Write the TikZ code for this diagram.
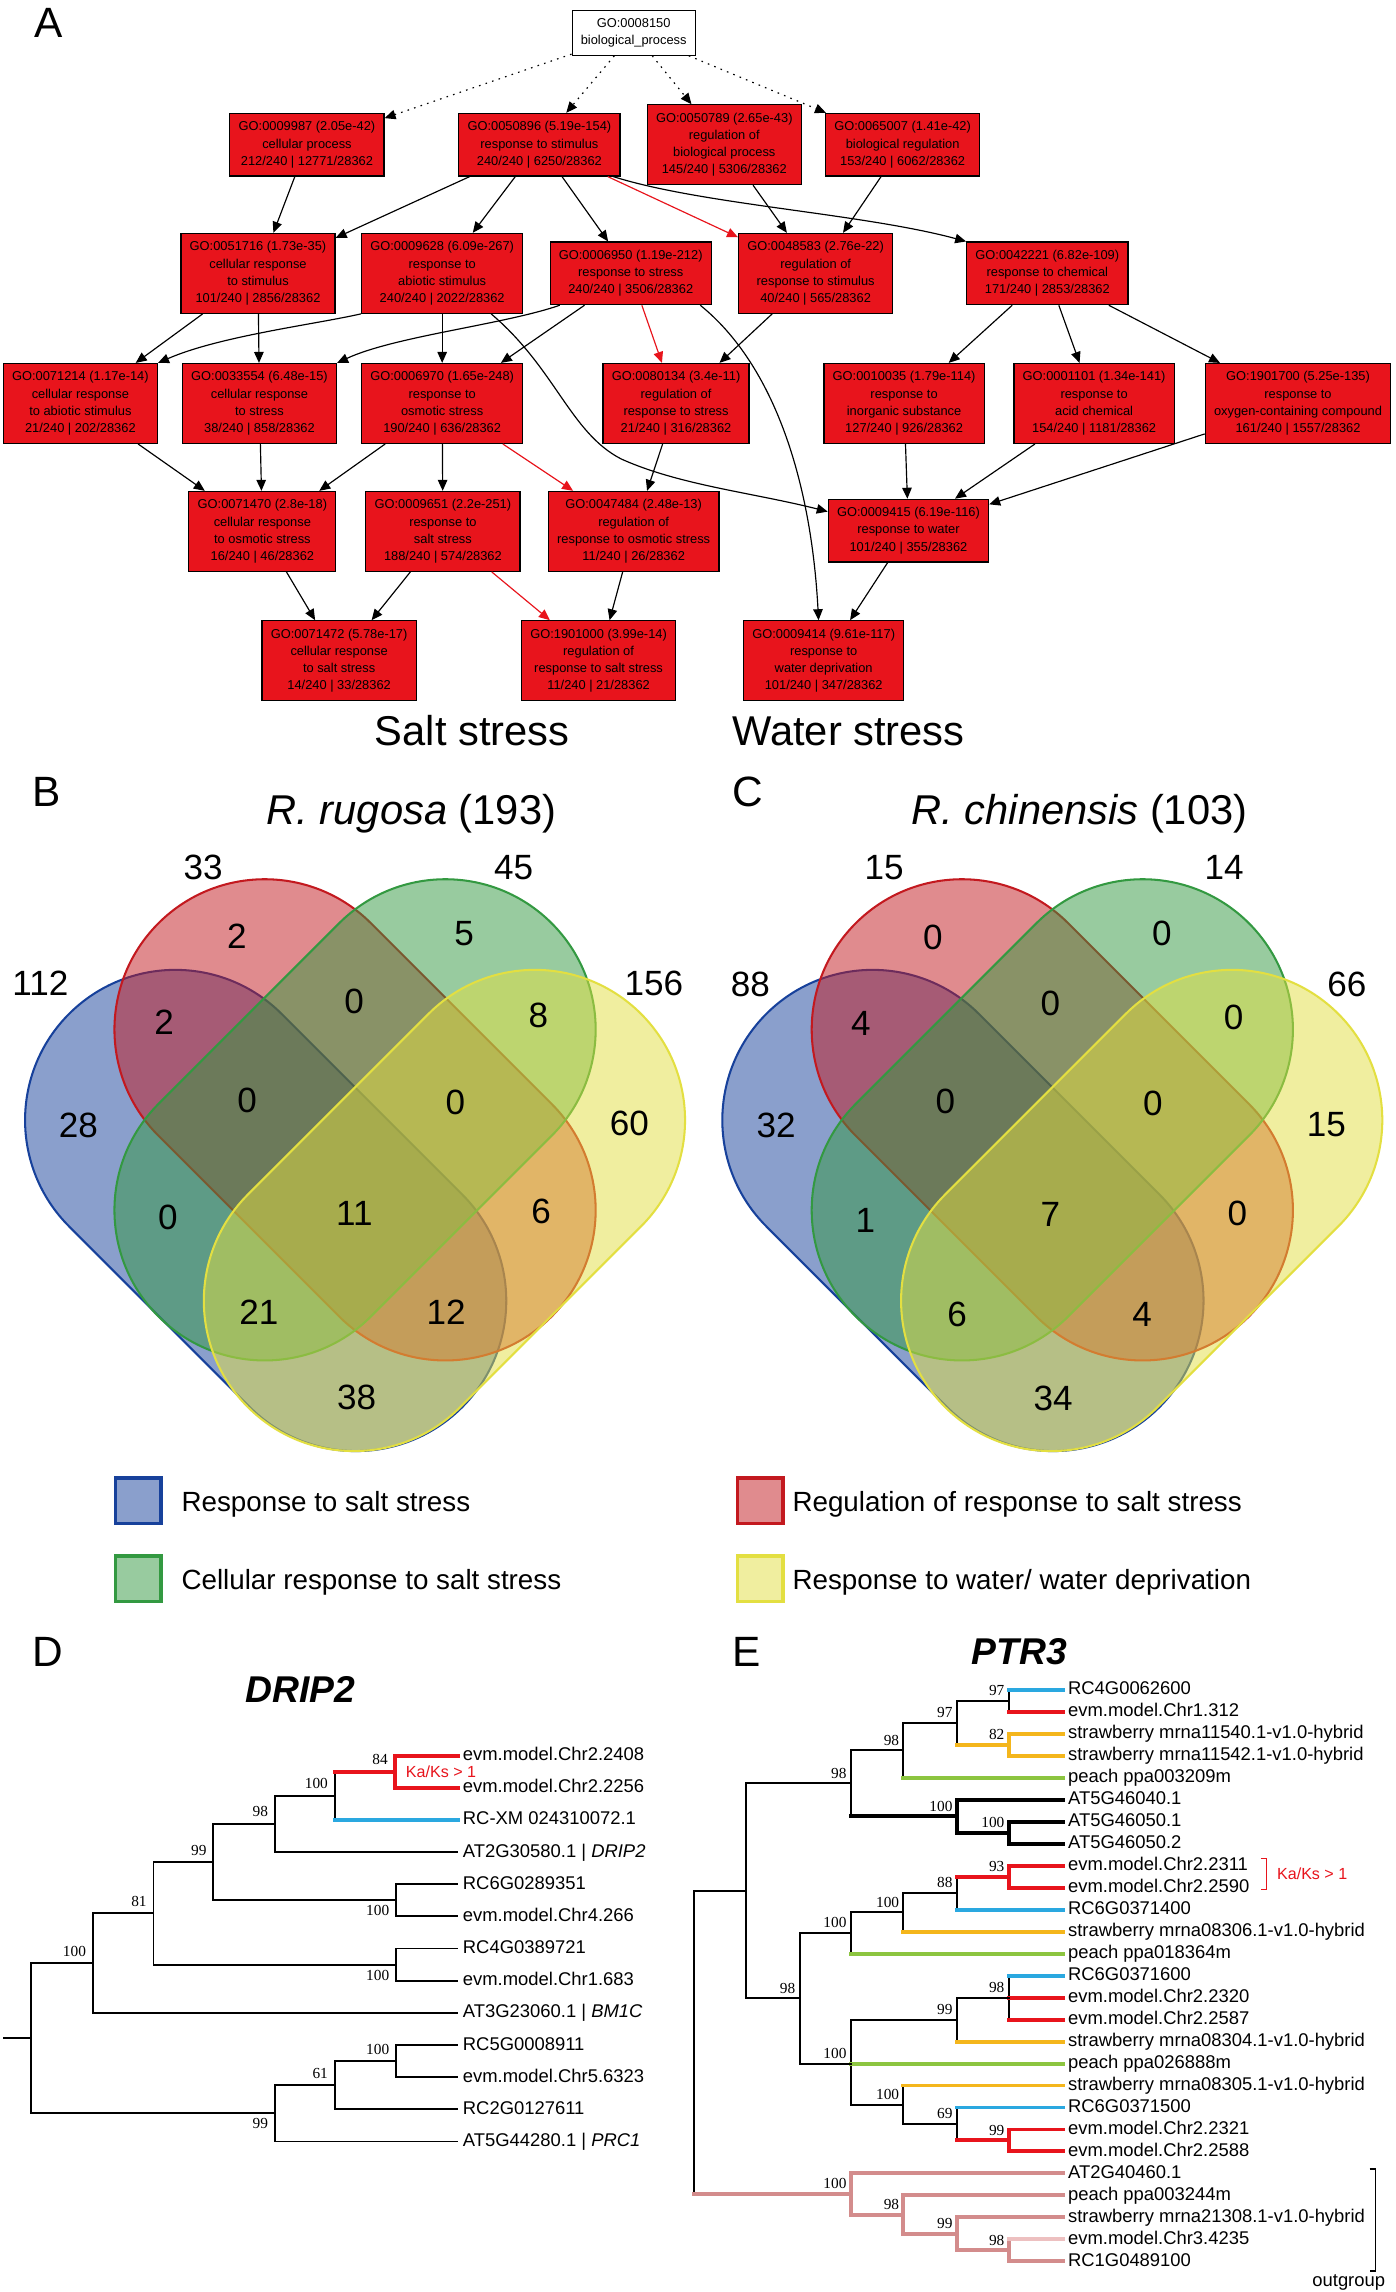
\documentclass[tikz,border=0pt]{standalone}
\usepackage{fontspec}
\setmainfont{Liberation Sans}
\newfontfamily\bootfont{Liberation Serif}
\usetikzlibrary{arrows.meta}

\definecolor{gofill}{HTML}{E8141C}
\definecolor{vblue}{HTML}{17419B}
\definecolor{vred}{HTML}{C3191F}
\definecolor{vgreen}{HTML}{339941}
\definecolor{vyellow}{HTML}{E3DF41}
\definecolor{tblue}{HTML}{2AA8E0}
\definecolor{tred}{HTML}{E8141C}
\definecolor{tyellow}{HTML}{F4B61C}
\definecolor{tgreen}{HTML}{8CC540}
\definecolor{tpink}{HTML}{D38C8C}
\definecolor{tlpink}{HTML}{EDC0C0}

% tree helpers: horizontal branch and vertical stem
\newcommand{\tbranch}[3][br]{\draw[#1] (#2 |- #3) -- (#3);}
\newcommand{\tstem}[4][br]{\draw[#1] (#2 |- #3) -- (#2 |- #4);}

\tikzset{
  panel/.style={font=\fontsize{29}{29}\selectfont, text height=20.8pt, text depth=0pt},
  gobox/.style={draw, fill=gofill, line width=0.8pt, align=center, inner xsep=6pt, inner ysep=5.5pt,
    font=\fontsize{8.8}{11.8}\selectfont},
  rootbox/.style={gobox, fill=white, line width=0.6pt},
  goarrow/.style={-{Triangle[length=7.5pt,width=6.5pt]}, line width=0.8pt},
  redarrow/.style={goarrow, color=tred},
  dotarrow/.style={goarrow, dash pattern=on 1.1pt off 3.6pt},
  bigtext/.style={font=\fontsize{28.5}{28.5}\selectfont, text height=20.4pt, text depth=0pt},
  vennset/.style={line width=1.4pt, fill opacity=0.5},
  stadium/.style={insert path={(-87.4,-102.8) -- (87.4,-102.8)
    arc[start angle=-90, end angle=90, radius=102.8] -- (-87.4,102.8)
    arc[start angle=90, end angle=270, radius=102.8] -- cycle}},
  vnum/.style={font=\fontsize{24}{24}\selectfont, text height=17.2pt, text depth=0pt},
  legbox/.style={line width=2.4pt, fill opacity=0.5, minimum size=31pt, inner sep=0pt},
  legtext/.style={anchor=west, inner xsep=0pt, font=\fontsize{19}{19}\selectfont, text height=13.6pt, text depth=0pt},
  treetitle/.style={font=\fontsize{25.5}{25.5}\selectfont\bfseries\itshape},
  leaf/.style={anchor=west, inner xsep=3.5pt, inner ysep=0pt, font=\fontsize{12.6}{12.6}\selectfont,
    text height=7pt, text depth=0pt},
  boot/.style={inner sep=0pt, font=\bootfont\fontsize{10.5}{10.5}\selectfont},
  bootD/.style={boot, anchor=south east, xshift=-4.5pt, yshift=4.5pt},
  bootDlow/.style={boot, anchor=north east, xshift=-4.5pt, yshift=-3.5pt},
  bootE/.style={boot, anchor=south east, xshift=-2.7pt, yshift=3.2pt},
  br/.style={line width=1.3pt, line cap=rect},
  thickbr/.style={line width=2.7pt, line cap=rect},
  brred/.style={thickbr, draw=tred},
  brblue/.style={thickbr, draw=tblue},
  bryellow/.style={thickbr, draw=tyellow},
  brgreen/.style={thickbr, draw=tgreen},
  brpink/.style={thickbr, draw=tpink},
  brlpink/.style={thickbr, draw=tlpink},
  kaks/.style={text=tred, inner sep=0pt, font=\fontsize{11}{11}\selectfont},
}

\begin{document}
\begin{tikzpicture}[x=1pt, y=-1pt]
\fill[white] (0,0) rectangle (955,1568);
\useasboundingbox (0,0) rectangle (955,1568);

% ---------------- A: GO graph
\node[panel] (labA) at (33,15) {A};

\node[rootbox] (go8150) at (433.5,22.5) {GO:0008150\\biological\_process};

\node[gobox] (go9987) at (210,99) {GO:0009987 (2.05e-42)\\cellular process\\212/240 | 12771/28362};
\node[gobox] (go50896) at (369,99) {GO:0050896 (5.19e-154)\\response to stimulus\\240/240 | 6250/28362};
\node[gobox] (go50789) at (495.5,99) {GO:0050789 (2.65e-43)\\regulation of\\biological process\\145/240 | 5306/28362};
\node[gobox] (go65007) at (617.5,99) {GO:0065007 (1.41e-42)\\biological regulation\\153/240 | 6062/28362};

\node[gobox] (go51716) at (176.5,187) {GO:0051716 (1.73e-35)\\cellular response\\to stimulus\\101/240 | 2856/28362};
\node[gobox] (go9628) at (302.5,187) {GO:0009628 (6.09e-267)\\response to\\abiotic stimulus\\240/240 | 2022/28362};
\node[gobox] (go6950) at (431.5,187) {GO:0006950 (1.19e-212)\\response to stress\\240/240 | 3506/28362};
\node[gobox] (go48583) at (558,187) {GO:0048583 (2.76e-22)\\regulation of\\response to stimulus\\40/240 | 565/28362};
\node[gobox] (go42221) at (716.5,187) {GO:0042221 (6.82e-109)\\response to chemical\\171/240 | 2853/28362};

\node[gobox] (go71214) at (55,276) {GO:0071214 (1.17e-14)\\cellular response\\to abiotic stimulus\\21/240 | 202/28362};
\node[gobox] (go33554) at (177.5,276) {GO:0033554 (6.48e-15)\\cellular response\\to stress\\38/240 | 858/28362};
\node[gobox] (go6970) at (302.5,276) {GO:0006970 (1.65e-248)\\response to\\osmotic stress\\190/240 | 636/28362};
\node[gobox] (go80134) at (462.5,276) {GO:0080134 (3.4e-11)\\regulation of\\response to stress\\21/240 | 316/28362};
\node[gobox] (go10035) at (618.5,276) {GO:0010035 (1.79e-114)\\response to\\inorganic substance\\127/240 | 926/28362};
\node[gobox] (go1101) at (748.5,276) {GO:0001101 (1.34e-141)\\response to\\acid chemical\\154/240 | 1181/28362};
\node[gobox] (go1901700) at (888,276) {GO:1901700 (5.25e-135)\\response to\\oxygen-containing compound\\161/240 | 1557/28362};

\node[gobox] (go71470) at (179.5,363.5) {GO:0071470 (2.8e-18)\\cellular response\\to osmotic stress\\16/240 | 46/28362};
\node[gobox] (go9651) at (303,363.5) {GO:0009651 (2.2e-251)\\response to\\salt stress\\188/240 | 574/28362};
\node[gobox] (go47484) at (433.5,363.5) {GO:0047484 (2.48e-13)\\regulation of\\response to osmotic stress\\11/240 | 26/28362};
\node[gobox] (go9415) at (621.5,363) {GO:0009415 (6.19e-116)\\response to water\\101/240 | 355/28362};

\node[gobox] (go71472) at (232,452) {GO:0071472 (5.78e-17)\\cellular response\\to salt stress\\14/240 | 33/28362};
\node[gobox] (go1901000) at (409.5,452) {GO:1901000 (3.99e-14)\\regulation of\\response to salt stress\\11/240 | 21/28362};
\node[gobox] (go9414) at (563.5,452) {GO:0009414 (9.61e-117)\\response to\\water deprivation\\101/240 | 347/28362};

\node[bigtext] (saltlab) at (323,500) {Salt stress};
\node[bigtext] (waterlab) at (580.5,500) {Water stress};

\draw[dotarrow] (go8150) -- (go9987);
\draw[dotarrow] (go8150) -- (go50896);
\draw[dotarrow] (go8150) -- (go50789);
\draw[dotarrow] (go8150) -- (go65007);

\draw[goarrow] (go9987) -- (go51716);
\draw[goarrow] (go50896) -- (go51716);
\draw[goarrow] (go50896) -- (go9628);
\draw[goarrow] (go50896) -- (go6950);
\draw[redarrow] (go50896) -- (go48583);
\draw[goarrow] ([xshift=-5pt]go50896.south east) .. controls (480,140) and (590,146) .. (go42221.north west);
\draw[goarrow] (go50789) -- (go48583);
\draw[goarrow] (go65007) -- (go48583);

\draw[goarrow] (go51716) -- (go71214);
\draw[goarrow] (go51716) -- (go33554);
\draw[goarrow] (go9628.south west) .. controls (215,222) and (150,230) .. (go71214.north east);
\draw[goarrow] (go9628) -- (go6970);
\draw[goarrow] ([xshift=33.5pt]go9628.south) .. controls (380,252) and (390,296) .. (425,314)
  .. controls (465,332) and (515,337) .. ([yshift=13pt]go9415.west);
\draw[goarrow] ([xshift=7pt]go6950.south west) .. controls (345,222) and (270,230) .. (go33554.north east);
\draw[goarrow] (go6950) -- (go6970);
\draw[redarrow] (go6950) -- (go80134);
\draw[goarrow] ([xshift=-8pt]go6950.south east) .. controls (530,250) and (555,330) .. ([xshift=-3.5pt]go9414.north);
\draw[goarrow] (go48583) -- (go80134);
\draw[goarrow] (go42221) -- (go10035);
\draw[goarrow] (go42221) -- (go1101);
\draw[goarrow] (go42221) -- (go1901700);

\draw[goarrow] (go71214) -- (go71470);
\draw[goarrow] (go33554) -- (go71470);
\draw[goarrow] (go6970) -- (go71470);
\draw[goarrow] (go6970) -- (go9651);
\draw[redarrow] (go6970) -- (go47484);
\draw[goarrow] (go80134) -- (go47484);
\draw[goarrow] (go10035) -- (go9415);
\draw[goarrow] (go1101) -- (go9415);
\draw[goarrow] (go1901700) -- (go9415);

\draw[goarrow] (go71470) -- (go71472);
\draw[goarrow] (go9651) -- (go71472);
\draw[redarrow] (go9651) -- (go1901000);
\draw[goarrow] (go47484) -- (go1901000);
\draw[goarrow] (go9415) -- (go9414);

% ---------------- B and C: Venn diagrams
\node[panel] (labB) at (32,541) {B};
\node[panel] (labC) at (511.5,541.5) {C};
\node[bigtext] (titleB) at (281.5,553.6) {\textit{R. rugosa} (193)};
\node[bigtext] (titleC) at (738.5,553.6) {\textit{R. chinensis} (103)};

\foreach \cx in {242.9,719.9} {
  \filldraw[vennset, draw=vblue, fill=vblue, shift={(\cx-61.15,828.1)}, rotate=-45, stadium];
  \filldraw[vennset, draw=vred, fill=vred, shift={(\cx,766.1)}, rotate=-45, stadium];
  \filldraw[vennset, draw=vgreen, fill=vgreen, shift={(\cx,766.1)}, rotate=45, stadium];
  \filldraw[vennset, draw=vyellow, fill=vyellow, shift={(\cx+61.15,828.1)}, rotate=45, stadium];
}

\foreach \v/\x/\y [count=\k] in {33/138.9/593, 45/351.4/593, 112/27.6/672.5, 156/447.4/672.5,
    2/162/640, 5/317.6/638, 2/112.2/699, 0/242.3/685, 8/368.3/694.5, 28/53.6/769.4,
    0/169/752.3, 0/311.5/754, 60/430.5/768, 0/114.8/832.4, 11/242.4/829.7, 6/370.2/828.5,
    21/177.1/897.5, 12/305.2/897.5, 38/244/955.5}
  \node[vnum] (vb\k) at (\x,\y) {\v};

\foreach \v/\x/\y [count=\k] in {15/604.8/593, 14/837.4/593, 88/513.4/673, 66/921.4/673,
    0/638.2/640.7, 0/794.8/638, 4/589/700, 0/718.6/686, 0/844/695.5, 32/531/769.4,
    0/646.8/753.3, 0/788.7/754.4, 15/907.4/768.7, 1/592/834.4, 7/718.6/830.6, 0/846.5/829.5,
    6/654.7/899, 4/781.4/899, 34/720.5/956.4}
  \node[vnum] (vc\k) at (\x,\y) {\v};

\node[legbox, draw=vblue, fill=vblue] (legblue) at (94.5,1026.6) {};
\node[legtext] (txtblue) at (124,1027.5) {Response to salt stress};
\node[legbox, draw=vgreen, fill=vgreen] (leggreen) at (94.5,1080) {};
\node[legtext] (txtgreen) at (124,1080.5) {Cellular response to salt stress};
\node[legbox, draw=vred, fill=vred] (legred) at (520,1026.6) {};
\node[legtext] (txtred) at (542,1027.5) {Regulation of response to salt stress};
\node[legbox, draw=vyellow, fill=vyellow] (legyellow) at (520,1080) {};
\node[legtext] (txtyellow) at (542,1080.5) {Response to water/ water deprivation};

% ---------------- D: DRIP2 tree
\node[panel] (labD) at (33,1130) {D};
\node[treetitle] (titleD) at (205.5,1155.5) {DRIP2};

\foreach \n/\t in {1/evm.model.Chr2.2408, 2/evm.model.Chr2.2256, 3/RC-XM 024310072.1,
    4/{AT2G30580.1 | \textit{DRIP2}}, 5/RC6G0289351, 6/evm.model.Chr4.266, 7/RC4G0389721,
    8/evm.model.Chr1.683, 9/{AT3G23060.1 | \textit{BM1C}}, 10/RC5G0008911,
    11/evm.model.Chr5.6323, 12/RC2G0127611, 13/{AT5G44280.1 | \textit{PRC1}}}
  \node[leaf] (d\n) at (313,{1201+22*(\n-1)}) {\t};

\coordinate (da) at (270,1212);
\coordinate (db) at (229,1228.5);
\coordinate (dc) at (188,1247.8);
\coordinate (dd) at (271,1300);
\coordinate (de) at (146,1273.9);
\coordinate (df) at (271,1344);
\coordinate (dg) at (105,1309);
\coordinate (dh) at (63.5,1343);
\coordinate (di) at (271,1410);
\coordinate (dj) at (229,1426.5);
\coordinate (dk) at (188,1445.8);
\coordinate (dr) at (21,1394.4);
\coordinate (dstub) at (3,1394.4);

\tstem[brred]{da}{d1.west}{d2.west}
\tbranch[brred]{da}{d1.west}
\tbranch[brred]{da}{d2.west}
\tstem{db}{da}{d3.west}
\tbranch[brred]{db}{da}
\tbranch[brblue]{db}{d3.west}
\tstem{dc}{db}{d4.west}
\tbranch{dc}{db}
\tbranch{dc}{d4.west}
\tstem{dd}{d5.west}{d6.west}
\tbranch{dd}{d5.west}
\tbranch{dd}{d6.west}
\tstem{de}{dc}{dd}
\tbranch{de}{dc}
\tbranch{de}{dd}
\tstem{df}{d7.west}{d8.west}
\tbranch{df}{d7.west}
\tbranch{df}{d8.west}
\tstem{dg}{de}{df}
\tbranch{dg}{de}
\tbranch{dg}{df}
\tstem{dh}{dg}{d9.west}
\tbranch{dh}{dg}
\tbranch{dh}{d9.west}
\tstem{di}{d10.west}{d11.west}
\tbranch{di}{d10.west}
\tbranch{di}{d11.west}
\tstem{dj}{di}{d12.west}
\tbranch{dj}{di}
\tbranch{dj}{d12.west}
\tstem{dk}{dj}{d13.west}
\tbranch{dk}{dj}
\tbranch{dk}{d13.west}
\tstem{dr}{dh}{dk}
\tbranch{dr}{dh}
\tbranch{dr}{dk}
\draw[br] (dstub) -- (dr);

\node[bootD] (bd1) at (da) {84};
\node[bootD] (bd2) at (db) {100};
\node[bootD] (bd3) at (dc) {98};
\node[bootD] (bd4) at (de) {99};
\node[bootD] (bd5) at (dg) {81};
\node[bootD] (bd6) at (dh) {100};
\node[bootD] (bd7) at (di) {100};
\node[bootD] (bd8) at (dj) {61};
\node[bootDlow] (bd9) at (dd) {100};
\node[bootDlow] (bd10) at (df) {100};
\node[bootDlow] (bd11) at (dk) {99};
\node[kaks, anchor=west] (kaksD) at (277.5,1212) {Ka/Ks > 1};

% ---------------- E: PTR3 tree
\node[panel] (labE) at (510.5,1130) {E};
\node[treetitle] (titleE) at (697.5,1130) {PTR3};

\foreach \n/\t in {1/RC4G0062600, 2/evm.model.Chr1.312, 3/strawberry mrna11540.1-v1.0-hybrid,
    4/strawberry mrna11542.1-v1.0-hybrid, 5/peach ppa003209m, 6/AT5G46040.1, 7/AT5G46050.1,
    8/AT5G46050.2, 9/evm.model.Chr2.2311, 10/evm.model.Chr2.2590, 11/RC6G0371400,
    12/strawberry mrna08306.1-v1.0-hybrid, 13/peach ppa018364m, 14/RC6G0371600,
    15/evm.model.Chr2.2320, 16/evm.model.Chr2.2587, 17/strawberry mrna08304.1-v1.0-hybrid,
    18/peach ppa026888m, 19/strawberry mrna08305.1-v1.0-hybrid, 20/RC6G0371500,
    21/evm.model.Chr2.2321, 22/evm.model.Chr2.2588, 23/AT2G40460.1, 24/peach ppa003244m,
    25/strawberry mrna21308.1-v1.0-hybrid, 26/evm.model.Chr3.4235, 27/RC1G0489100}
  \node[leaf] (e\n) at (727,{1156+15.04*(\n-1)}) {\t};

\coordinate (eA) at (690,1163.5);
\coordinate (eB) at (654.5,1178.6);
\coordinate (eC) at (690,1193.6);
\coordinate (eD) at (618,1197.4);
\coordinate (eE) at (582,1219.9);
\coordinate (eF) at (654.5,1242.5);
\coordinate (eG) at (690,1253.8);
\coordinate (eH) at (510.5,1293.5);
\coordinate (eI) at (690,1283.8);
\coordinate (eJ) at (654.5,1295.1);
\coordinate (eK) at (618,1308.3);
\coordinate (eL) at (582,1322.4);
\coordinate (eM) at (547,1367);
\coordinate (eN) at (582,1411.7);
\coordinate (eO) at (654.5,1381.6);
\coordinate (eP) at (618,1439.9);
\coordinate (eQ) at (690,1366.6);
\coordinate (eR) at (654.5,1453);
\coordinate (eS) at (690,1464.3);
\coordinate (eT) at (582,1501);
\coordinate (eU) at (618,1515.1);
\coordinate (eV) at (654.5,1528.2);
\coordinate (eW) at (690,1539.5);
\coordinate (eroot) at (475,1397);

\tstem{eA}{e1.west}{e2.west}
\tbranch[brblue]{eA}{e1.west}
\tbranch[brred]{eA}{e2.west}
\tstem[bryellow]{eC}{e3.west}{e4.west}
\tbranch[bryellow]{eC}{e3.west}
\tbranch[bryellow]{eC}{e4.west}
\tstem{eB}{eA}{eC}
\tbranch{eB}{eA}
\tbranch[bryellow]{eB}{eC}
\tstem{eD}{eB}{e5.west}
\tbranch{eD}{eB}
\tbranch[brgreen]{eD}{e5.west}
\tstem[thickbr]{eG}{e7.west}{e8.west}
\tbranch[thickbr]{eG}{e7.west}
\tbranch[thickbr]{eG}{e8.west}
\tstem[thickbr]{eF}{e6.west}{eG}
\tbranch[thickbr]{eF}{e6.west}
\tbranch[thickbr]{eF}{eG}
\tstem{eE}{eD}{eF}
\tbranch{eE}{eD}
\tbranch[thickbr]{eE}{eF}
\tstem[brred]{eI}{e9.west}{e10.west}
\tbranch[brred]{eI}{e9.west}
\tbranch[brred]{eI}{e10.west}
\tstem{eJ}{eI}{e11.west}
\tbranch[brred]{eJ}{eI}
\tbranch[brblue]{eJ}{e11.west}
\tstem{eK}{eJ}{e12.west}
\tbranch{eK}{eJ}
\tbranch[bryellow]{eK}{e12.west}
\tstem{eL}{eK}{e13.west}
\tbranch{eL}{eK}
\tbranch[brgreen]{eL}{e13.west}
\tstem{eQ}{e14.west}{e16.west}
\tbranch[brblue]{eQ}{e14.west}
\tbranch[brred]{eQ}{e15.west}
\tbranch[brred]{eQ}{e16.west}
\tstem{eO}{eQ}{e17.west}
\tbranch{eO}{eQ}
\tbranch[bryellow]{eO}{e17.west}
\tstem[brred]{eS}{e21.west}{e22.west}
\tbranch[brred]{eS}{e21.west}
\tbranch[brred]{eS}{e22.west}
\tstem{eR}{e20.west}{eS}
\tbranch[brblue]{eR}{e20.west}
\tbranch[brred]{eR}{eS}
\tstem{eP}{e19.west}{eR}
\tbranch[bryellow]{eP}{e19.west}
\tbranch{eP}{eR}
\tstem{eN}{eO}{eP}
\tbranch{eN}{eO}
\tbranch[brgreen]{eN}{e18.west}
\tbranch{eN}{eP}
\tstem{eM}{eL}{eN}
\tbranch{eM}{eL}
\tbranch{eM}{eN}
\tstem{eH}{eE}{eM}
\tbranch{eH}{eE}
\tbranch{eH}{eM}
\tstem[brpink]{eW}{e26.west}{e27.west}
\tbranch[brlpink]{eW}{e26.west}
\tbranch[brpink]{eW}{e27.west}
\tstem[brpink]{eV}{e25.west}{eW}
\tbranch[brpink]{eV}{e25.west}
\tbranch[brpink]{eV}{eW}
\tstem[brpink]{eU}{e24.west}{eV}
\tbranch[brpink]{eU}{e24.west}
\tbranch[brpink]{eU}{eV}
\tstem[brpink]{eT}{e23.west}{eU}
\tbranch[brpink]{eT}{e23.west}
\tbranch[brpink]{eT}{eU}
\tstem{eroot}{eH}{eT}
\tbranch{eroot}{eH}
\tbranch[brpink]{eroot}{eT}

\node[bootE] (be1) at (eA) {97};
\node[bootE] (be2) at (eB) {97};
\node[bootE] (be3) at (eC) {82};
\node[bootE] (be4) at (eD) {98};
\node[bootE] (be5) at (eE) {98};
\node[bootE] (be6) at (eF) {100};
\node[bootE] (be7) at (eG) {100};
\node[bootE] (be8) at (eI) {93};
\node[bootE] (be9) at (eJ) {88};
\node[bootE] (be10) at (eK) {100};
\node[bootE] (be11) at (eL) {100};
\node[bootE] (be12) at (eM) {98};
\node[bootE] (be13) at (eN) {100};
\node[bootE] (be14) at (eO) {99};
\node[bootE] (be15) at (eQ) {98};
\node[bootE] (be16) at (eP) {100};
\node[bootE] (be17) at (eR) {69};
\node[bootE] (be18) at (eS) {99};
\node[bootE] (be19) at (eT) {100};
\node[bootE] (be20) at (eU) {98};
\node[bootE] (be21) at (eV) {99};
\node[bootE] (be22) at (eW) {98};

\draw[line width=1.1pt, draw=tred] (862.5,1271.5) -| (866.5,1292.5) -- (862.5,1292.5);
\node[kaks, anchor=west] (kaksE) at (873.5,1282) {Ka/Ks > 1};
\draw[line width=1.3pt] (937,1484) -| (941,1553.5) -- (937,1553.5);
\node[leaf, anchor=center, inner xsep=0pt] (outgrp) at (922.7,1561) {outgroup};

\end{tikzpicture}
\end{document}
